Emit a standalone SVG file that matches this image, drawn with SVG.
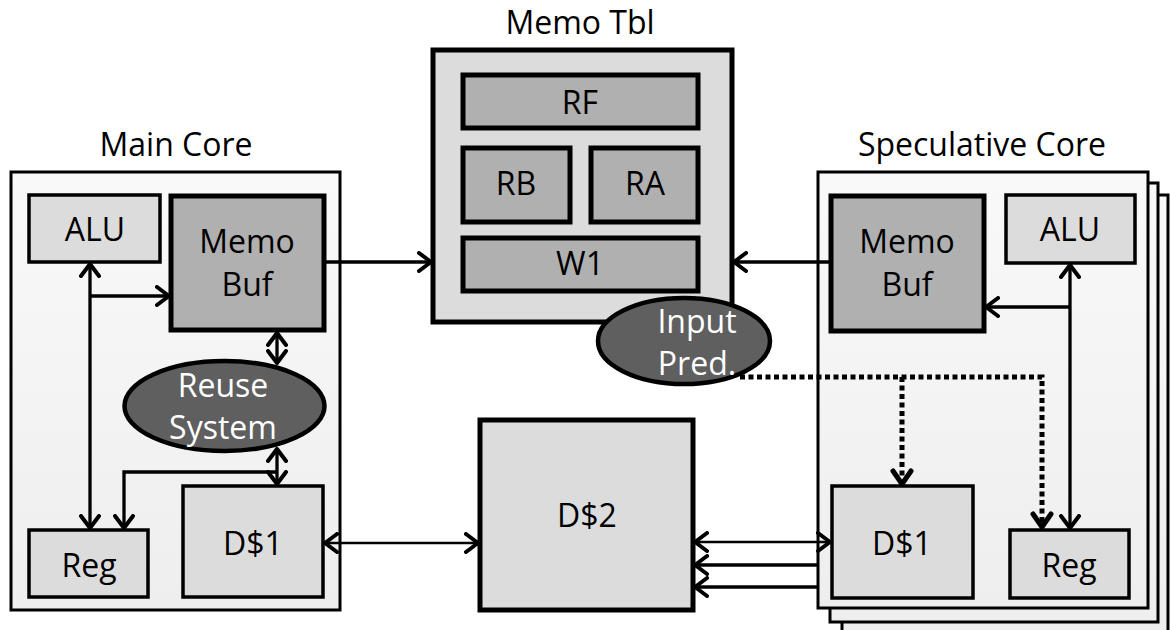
<svg xmlns="http://www.w3.org/2000/svg" width="1170" height="630" viewBox="0 0 1170 630">
  <defs>
    <linearGradient id="coreFill" x1="0" y1="0" x2="0" y2="1">
      <stop offset="0" stop-color="#f9f9f9"/>
      <stop offset="1" stop-color="#eeeeee"/>
    </linearGradient>
    <marker id="arrow" viewBox="0 0 16 22" refX="14" refY="11" markerWidth="16" markerHeight="22" markerUnits="userSpaceOnUse" orient="auto-start-reverse">
      <path d="M2,2 L14,11 L2,20" fill="none" stroke="#000" stroke-width="4" stroke-linecap="round" stroke-linejoin="round"/>
    </marker>
    <style>
      text { font-family: "Open Sans", "Liberation Sans", sans-serif; font-size: 32px; fill: #000; text-anchor: middle; }
      .title { font-size: 32px; }
      .light { fill: #fff; }
      .core { fill: url(#coreFill); stroke: #000; stroke-width: 3; }
      .unit { fill: #dcdcdc; stroke: #000; stroke-width: 3.5; }
      .buf { fill: #b0b0b0; stroke: #000; stroke-width: 5; }
      .tbl { fill: #dcdcdc; stroke: #000; stroke-width: 5; }
      .big { fill: #dcdcdc; stroke: #000; stroke-width: 5; }
      .oval { fill: #5f5f5f; stroke: #000; stroke-width: 4.5; }
      .wire { fill: none; stroke: #000; stroke-width: 3.3; }
      .thin { fill: none; stroke: #000; stroke-width: 2.4; }
      .dots { fill: none; stroke: #000; stroke-width: 5; stroke-dasharray: 5 3.5; }
    </style>
  </defs>

  <rect width="1170" height="630" fill="#fff"/>

  <!-- Titles -->
  <text class="title" x="176" y="156">Main Core</text>
  <text class="title" x="580" y="34">Memo Tbl</text>
  <text class="title" x="982" y="156">Speculative Core</text>

  <!-- Main core -->
  <g id="main-core">
    <rect class="core" x="11" y="172" width="329" height="438"/>
  </g>
  <g id="main-alu">
    <rect class="unit" x="29" y="195" width="131" height="67"/>
    <text x="95" y="241">ALU</text>
  </g>
  <g id="main-memo-buf">
    <rect class="buf" x="171" y="196" width="153" height="134"/>
    <text x="247" y="253">Memo</text>
    <text x="247" y="296">Buf</text>
  </g>
  <g id="main-reg">
    <rect class="unit" x="29" y="530" width="119" height="67"/>
    <text x="89" y="577">Reg</text>
  </g>
  <g id="main-d1">
    <rect class="unit" x="183" y="486" width="140" height="111"/>
    <text x="253" y="555">D$1</text>
  </g>

  <!-- Memo table -->
  <g id="memo-tbl">
    <rect class="tbl" x="433" y="50" width="299" height="272"/>
  </g>
  <g id="rf">
    <rect class="buf" x="463" y="75" width="235" height="53" stroke-width="4.5"/>
    <text x="580" y="114">RF</text>
  </g>
  <g id="rb">
    <rect class="buf" x="463" y="148" width="107" height="74" stroke-width="4.5"/>
    <text x="516" y="195">RB</text>
  </g>
  <g id="ra">
    <rect class="buf" x="591" y="148" width="107" height="74" stroke-width="4.5"/>
    <text x="645" y="195">RA</text>
  </g>
  <g id="w1">
    <rect class="buf" x="463" y="238" width="235" height="53" stroke-width="4.5"/>
    <text x="580" y="275">W1</text>
  </g>

  <!-- L2 cache -->
  <g id="d2">
    <rect class="big" x="480" y="420" width="213" height="190"/>
    <text x="587" y="527">D$2</text>
  </g>

  <!-- Speculative core stack -->
  <g id="spec-core">
    <rect class="core" x="842" y="195" width="326" height="445"/>
    <rect class="core" x="830" y="183" width="328" height="439"/>
    <rect class="core" x="818" y="172" width="330" height="436"/>
  </g>
  <g id="spec-memo-buf">
    <rect class="buf" x="831" y="196" width="153" height="135"/>
    <text x="907" y="253">Memo</text>
    <text x="907" y="296">Buf</text>
  </g>
  <g id="spec-alu">
    <rect class="unit" x="1006" y="195" width="129" height="68"/>
    <text x="1070" y="241">ALU</text>
  </g>
  <g id="spec-d1">
    <rect class="unit" x="832" y="486" width="141" height="112"/>
    <text x="902" y="555">D$1</text>
  </g>
  <g id="spec-reg">
    <rect class="unit" x="1010" y="530" width="119" height="68"/>
    <text x="1069" y="577">Reg</text>
  </g>

  <!-- Connectors -->
  <g id="connectors">
    <!-- main core -->
    <line class="wire" x1="90" y1="264" x2="90" y2="528" marker-start="url(#arrow)" marker-end="url(#arrow)"/>
    <line class="wire" x1="90" y1="296" x2="169" y2="296" marker-end="url(#arrow)"/>
    <line class="wire" x1="277" y1="333" x2="277" y2="363" marker-start="url(#arrow)" marker-end="url(#arrow)"/>
    <line class="wire" x1="277" y1="449" x2="277" y2="484" marker-start="url(#arrow)" marker-end="url(#arrow)"/>
    <polyline class="wire" points="277,472 124,472 124,528" marker-end="url(#arrow)"/>
    <!-- to memo table -->
    <line class="wire" x1="326" y1="262" x2="431" y2="262" marker-end="url(#arrow)"/>
    <line class="wire" x1="829" y1="262" x2="734" y2="262" marker-end="url(#arrow)"/>
    <!-- caches -->
    <line class="thin" x1="325" y1="543" x2="478" y2="543" marker-start="url(#arrow)" marker-end="url(#arrow)"/>
    <line class="thin" x1="695" y1="542" x2="830" y2="542" marker-start="url(#arrow)" marker-end="url(#arrow)"/>
    <line class="wire" x1="818" y1="565" x2="695" y2="565" marker-end="url(#arrow)"/>
    <line class="wire" x1="818" y1="587" x2="695" y2="587" marker-end="url(#arrow)"/>
    <!-- speculative core -->
    <line class="wire" x1="1070" y1="265" x2="1070" y2="528" marker-start="url(#arrow)" marker-end="url(#arrow)"/>
    <line class="wire" x1="1070" y1="307" x2="986" y2="307" marker-end="url(#arrow)"/>
    <!-- value prediction paths -->
    <polyline class="dots" points="740,377 1042,377 1042,522"/>
    <line class="dots" x1="902" y1="377" x2="902" y2="478"/>
    <path d="M1033,514 L1042,527 L1051,514" fill="none" stroke="#000" stroke-width="5" stroke-linecap="round" stroke-linejoin="round"/>
    <path d="M893,471 L902,484 L911,471" fill="none" stroke="#000" stroke-width="5" stroke-linecap="round" stroke-linejoin="round"/>
  </g>

  <!-- Ovals -->
  <g id="reuse-system">
    <ellipse class="oval" cx="224.5" cy="406" rx="100" ry="45"/>
    <text class="light" x="223" y="397">Reuse</text>
    <text class="light" x="223" y="439">System</text>
  </g>
  <g id="input-pred">
    <ellipse class="oval" cx="684" cy="341" rx="86" ry="43"/>
    <text class="light" x="697" y="333">Input</text>
    <text class="light" x="697" y="375">Pred.</text>
  </g>
</svg>
